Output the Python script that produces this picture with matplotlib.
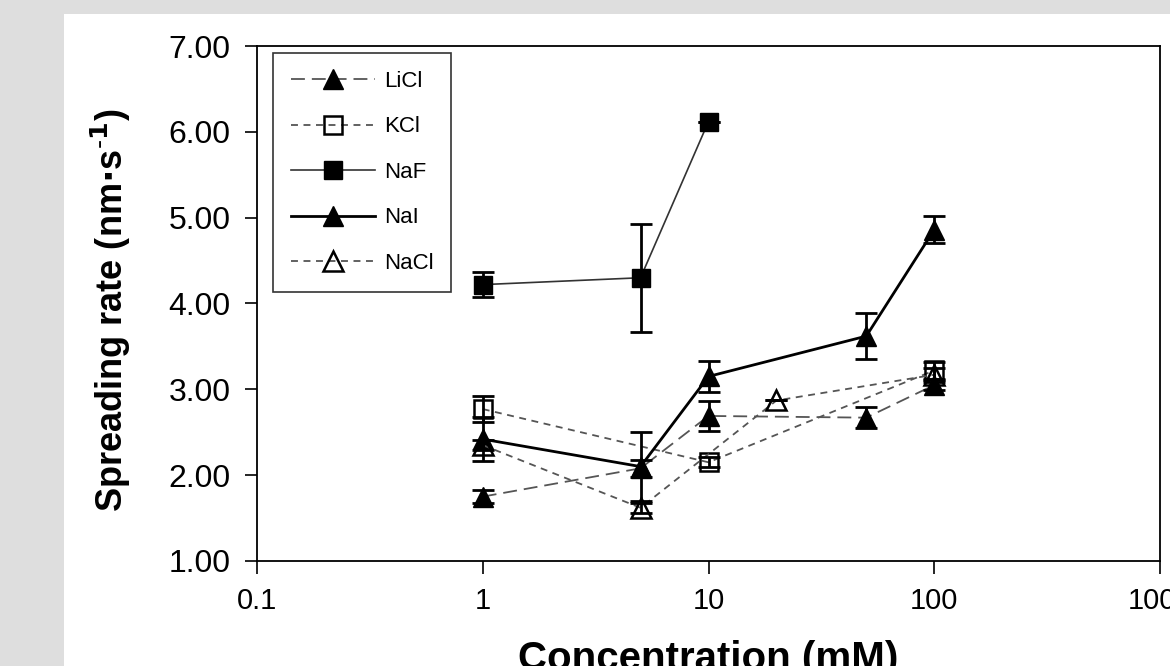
import matplotlib
matplotlib.use("Agg")
import matplotlib.pyplot as plt
from matplotlib.patches import Rectangle
from matplotlib.ticker import FixedLocator, FuncFormatter, NullLocator

plt.rcParams.update({
    "font.family": ["Liberation Sans", "DejaVu Sans"],
    "lines.scale_dashes": False,
})

# Data (concentration in mM, rate in nm/s)
conc_licl = [1, 5, 10, 50, 100]
rate_licl = [1.75, 2.08, 2.69, 2.67, 3.05]
err_licl = [0.08, 0.10, 0.17, 0.12, 0.06]

conc_kcl = [1, 10, 100]
rate_kcl = [2.77, 2.15, 3.22]
err_kcl = [0.15, 0.06, 0.10]

conc_naf = [1, 5, 10]
rate_naf = [4.22, 4.30, 6.12]
err_naf = [0.15, 0.63, 0.0]

conc_nai = [1, 5, 10, 50, 100]
rate_nai = [2.42, 2.10, 3.15, 3.62, 4.86]
err_nai = [0.26, 0.40, 0.18, 0.27, 0.16]

conc_nacl = [1, 5, 20, 100]
rate_nacl = [2.35, 1.62, 2.87, 3.17]
err_nacl = [0.06, 0.06, 0.0, 0.08]

x_ticks = [0.1, 1, 10, 100, 1000]
y_ticks = [1, 2, 3, 4, 5, 6, 7]

fig = plt.figure(figsize=(11.7, 6.66), dpi=100, facecolor="#dedede")
# white panel behind the chart
panel = Rectangle((64 / 1170, 0), 1, 1 - 14 / 666, transform=fig.transFigure,
                  facecolor="white", edgecolor="none", zorder=-10)
fig.add_artist(panel)

ax = fig.add_axes([257 / 1170, 1 - 561 / 666, 903 / 1170, 515 / 666])
ax.set_zorder(1)
ax.set_facecolor("white")

series = [
    ("LiCl", conc_licl, rate_licl, err_licl,
     dict(color="#555555", lw=1.3, dashes=(10, 5), marker="^", ms=14,
          mfc="black", mec="black")),
    ("KCl", conc_kcl, rate_kcl, err_kcl,
     dict(color="#555555", lw=1.3, dashes=(5, 4), marker="s", ms=13,
          mfc="none", mec="black", mew=1.8)),
    ("NaF", conc_naf, rate_naf, err_naf,
     dict(color="#333333", lw=1.2, ls="-", marker="s", ms=13,
          mfc="black", mec="black")),
    ("NaI", conc_nai, rate_nai, err_nai,
     dict(color="black", lw=2.0, ls="-", marker="^", ms=14,
          mfc="black", mec="black")),
    ("NaCl", conc_nacl, rate_nacl, err_nacl,
     dict(color="#555555", lw=1.3, dashes=(5, 4), marker="^", ms=14,
          mfc="none", mec="black", mew=1.8)),
]

for name, x, y, e, style in series:
    ax.plot(x, y, label=name, zorder=3, **style)
    ax.errorbar(x, y, yerr=e, fmt="none", ecolor="black", elinewidth=2,
                capsize=8, capthick=2, zorder=4)

ax.set_xscale("log")
ax.set_xlim(0.1, 1000)
ax.set_ylim(1, 7)
ax.xaxis.set_major_locator(FixedLocator(x_ticks))
ax.xaxis.set_minor_locator(NullLocator())
ax.xaxis.set_major_formatter(FuncFormatter(lambda v, p: "%g" % v))
ax.yaxis.set_major_locator(FixedLocator(y_ticks))
ax.yaxis.set_major_formatter(FuncFormatter(lambda v, p: "%.2f" % v))

ax.tick_params(axis="both", direction="out", length=9, width=1.2)
ax.tick_params(axis="y", labelsize=23, pad=10)
ax.tick_params(axis="x", labelsize=21, pad=10)
for s in ax.spines.values():
    s.set_linewidth(1.3)
    s.set_color("black")

ax.set_xlabel("Concentration (mM)", fontsize=29, fontweight="bold")
ax.set_ylabel("Spreading rate (nm$\\mathbf{\\cdot}$s$^{\\mathbf{\\text{-}1}}$)",
              fontsize=26, fontweight="bold")
ax.xaxis.set_label_coords(0.5, -0.153)
ax.yaxis.set_label_coords(-0.137, 0.487)

leg = ax.legend(loc="upper left", bbox_to_anchor=(0.0177, 0.986),
                borderaxespad=0, fontsize=16, handlelength=3.8,
                labelspacing=1.1, handletextpad=0.4, borderpad=0.8,
                fancybox=False, framealpha=1, edgecolor="#333333")
leg.get_frame().set_linewidth(1.2)

fig.savefig("out.png", dpi=100, facecolor=fig.get_facecolor())
